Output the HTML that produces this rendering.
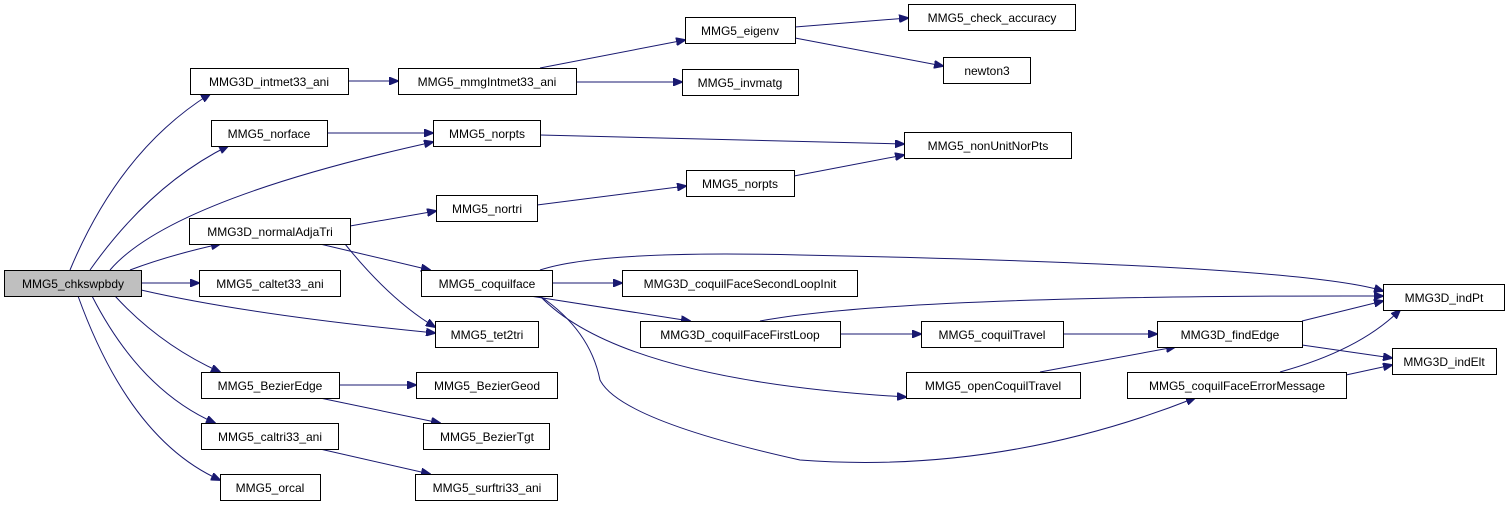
<!DOCTYPE html>
<html><head><meta charset="utf-8"><style>
html,body{margin:0;padding:0;background:#fff;}
svg{display:block;}
text{font-family:"Liberation Sans",Helvetica,sans-serif;font-size:12px;fill:#000;}
rect{fill:#fff;stroke:#000;stroke-width:1;}
path{fill:none;stroke:#191970;stroke-width:1;}
</style></head><body>
<svg width="1511" height="505" viewBox="0 0 1511 505" xmlns="http://www.w3.org/2000/svg">
<defs><marker id="a" markerWidth="10" markerHeight="8" refX="9" refY="4" orient="auto" markerUnits="userSpaceOnUse"><path d="M0,0 L10,4 L0,8 z" style="fill:#191970;stroke:#191970"/></marker></defs>
<g marker-end="url(#a)">
<path d="M70,270 Q120,150 210,94"/>
<path d="M90,270 Q150,185 228,146"/>
<path d="M110,270 Q170,200 433,142"/>
<path d="M130,270 Q170,255 220,244"/>
<path d="M141,283 L199,283"/>
<path d="M141,290 Q250,315 435,333"/>
<path d="M115,296 Q160,345 220,372"/>
<path d="M92,296 Q140,390 215,423"/>
<path d="M78,296 Q130,440 220,480"/>
<path d="M348,81 L398,81"/>
<path d="M540,68 L685,40"/>
<path d="M576,82 L682,82"/>
<path d="M795,27 L908,18"/>
<path d="M795,38 L943,66"/>
<path d="M327,133 L433,133"/>
<path d="M540,135 L904,144"/>
<path d="M350,226 L436,211"/>
<path d="M320,244 L430,270"/>
<path d="M345,244 Q390,300 435,327"/>
<path d="M537,205 L686,186"/>
<path d="M794,176 L904,155"/>
<path d="M540,270 Q600,250 800,255 Q1300,265 1383,291"/>
<path d="M552,283 L622,283"/>
<path d="M760,321 Q900,295 1383,296"/>
<path d="M530,296 L690,321"/>
<path d="M540,296 Q620,380 906,397"/>
<path d="M540,296 Q590,330 600,380 Q620,420 800,460 Q1000,475 1195,398"/>
<path d="M840,334 L921,334"/>
<path d="M1063,334 L1157,334"/>
<path d="M1040,372 L1175,347"/>
<path d="M1302,321 L1383,301"/>
<path d="M1302,345 L1392,358"/>
<path d="M1280,372 Q1360,350 1400,310"/>
<path d="M1346,375 L1392,365"/>
<path d="M339,385 L416,385"/>
<path d="M320,398 L440,423"/>
<path d="M320,449 L430,474"/>
</g>
<g>
<rect x="4.5" y="270.5" width="137" height="26" style="fill:#bfbfbf"/><text x="73" y="288" text-anchor="middle">MMG5_chkswpbdy</text>
<rect x="190.5" y="68.5" width="158" height="26"/><text x="269" y="86" text-anchor="middle">MMG3D_intmet33_ani</text>
<rect x="398.5" y="68.5" width="178" height="26"/><text x="487" y="86" text-anchor="middle">MMG5_mmgIntmet33_ani</text>
<rect x="685.5" y="17.5" width="110" height="26"/><text x="740" y="35" text-anchor="middle">MMG5_eigenv</text>
<rect x="908.5" y="4.5" width="167" height="26"/><text x="992" y="22" text-anchor="middle">MMG5_check_accuracy</text>
<rect x="943.5" y="57.5" width="87" height="26"/><text x="987" y="75" text-anchor="middle">newton3</text>
<rect x="682.5" y="69.5" width="116" height="26"/><text x="740" y="87" text-anchor="middle">MMG5_invmatg</text>
<rect x="211.5" y="120.5" width="116" height="26"/><text x="269" y="138" text-anchor="middle">MMG5_norface</text>
<rect x="433.5" y="120.5" width="107" height="26"/><text x="487" y="138" text-anchor="middle">MMG5_norpts</text>
<rect x="904.5" y="132.5" width="167" height="26"/><text x="988" y="150" text-anchor="middle">MMG5_nonUnitNorPts</text>
<rect x="189.5" y="218.5" width="161" height="26"/><text x="270" y="236" text-anchor="middle">MMG3D_normalAdjaTri</text>
<rect x="436.5" y="195.5" width="101" height="26"/><text x="487" y="213" text-anchor="middle">MMG5_nortri</text>
<rect x="686.5" y="170.5" width="108" height="26"/><text x="740" y="188" text-anchor="middle">MMG5_norpts</text>
<rect x="199.5" y="270.5" width="141" height="26"/><text x="270" y="288" text-anchor="middle">MMG5_caltet33_ani</text>
<rect x="421.5" y="270.5" width="131" height="26"/><text x="487" y="288" text-anchor="middle">MMG5_coquilface</text>
<rect x="622.5" y="270.5" width="235" height="26"/><text x="740" y="288" text-anchor="middle">MMG3D_coquilFaceSecondLoopInit</text>
<rect x="1383.5" y="284.5" width="121" height="26"/><text x="1444" y="302" text-anchor="middle">MMG3D_indPt</text>
<rect x="435.5" y="321.5" width="103" height="26"/><text x="487" y="339" text-anchor="middle">MMG5_tet2tri</text>
<rect x="640.5" y="321.5" width="200" height="26"/><text x="740" y="339" text-anchor="middle">MMG3D_coquilFaceFirstLoop</text>
<rect x="921.5" y="321.5" width="142" height="26"/><text x="992" y="339" text-anchor="middle">MMG5_coquilTravel</text>
<rect x="1157.5" y="321.5" width="145" height="26"/><text x="1230" y="339" text-anchor="middle">MMG3D_findEdge</text>
<rect x="1392.5" y="348.5" width="104" height="26"/><text x="1444" y="366" text-anchor="middle">MMG3D_indElt</text>
<rect x="201.5" y="372.5" width="138" height="26"/><text x="270" y="390" text-anchor="middle">MMG5_BezierEdge</text>
<rect x="416.5" y="372.5" width="141" height="26"/><text x="487" y="390" text-anchor="middle">MMG5_BezierGeod</text>
<rect x="906.5" y="372.5" width="174" height="26"/><text x="993" y="390" text-anchor="middle">MMG5_openCoquilTravel</text>
<rect x="1127.5" y="372.5" width="219" height="26"/><text x="1237" y="390" text-anchor="middle">MMG5_coquilFaceErrorMessage</text>
<rect x="201.5" y="423.5" width="137" height="26"/><text x="270" y="441" text-anchor="middle">MMG5_caltri33_ani</text>
<rect x="423.5" y="423.5" width="126" height="26"/><text x="487" y="441" text-anchor="middle">MMG5_BezierTgt</text>
<rect x="220.5" y="474.5" width="100" height="26"/><text x="270" y="492" text-anchor="middle">MMG5_orcal</text>
<rect x="415.5" y="474.5" width="142" height="26"/><text x="487" y="492" text-anchor="middle">MMG5_surftri33_ani</text>
</g>
</svg>
</body></html>
